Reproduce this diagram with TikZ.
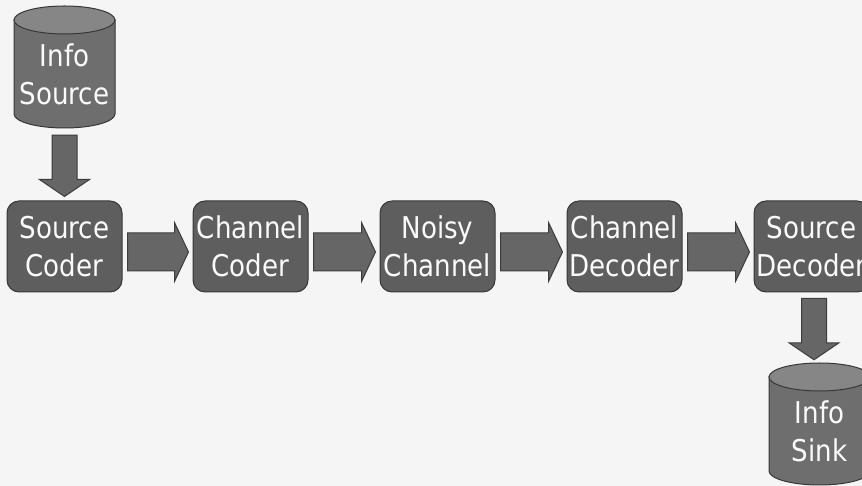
\documentclass[tikz,border=0pt]{standalone}
\usepackage{fontspec}
\setmainfont{DejaVu Sans}[FakeStretch=0.87]
\usetikzlibrary{calc}

\definecolor{bgcol}{RGB}{245,245,245}
\definecolor{boxfill}{RGB}{94,94,94}
\definecolor{boxline}{RGB}{55,55,55}
\definecolor{arrowfill}{RGB}{102,102,102}
\definecolor{arrowline}{RGB}{60,60,60}
\definecolor{cylbody}{RGB}{110,110,110}
\definecolor{cyltop}{RGB}{134,134,134}
\definecolor{labelcol}{RGB}{250,250,250}

\tikzset{
  labeltext/.style={text=labelcol, align=center,
    font=\fontsize{30}{38}\selectfont},
  stage/.style={labeltext, rectangle, rounded corners=12pt, fill=boxfill,
    draw=boxline, line width=1pt, minimum width=115pt, minimum height=91pt,
    inner sep=0pt},
  % upright cylinder drawn inside the node's (invisible) rectangle
  store/.style={rectangle, inner sep=0pt, minimum width=103pt,
    minimum height=124pt,
    path picture={
      \path[fill=cylbody, draw=boxline, line width=1pt]
        let \p1=(path picture bounding box.south west),
            \p2=(path picture bounding box.north east),
            \n1={(\x2-\x1)/2-1pt} in
        (\x1+1pt,\y2-15pt) -- (\x1+1pt,\y1+15pt)
        arc[start angle=180, end angle=360, x radius=\n1, y radius=14pt]
        -- (\x2-1pt,\y2-15pt) -- cycle;
      \path[fill=cyltop, draw=boxline, line width=1pt]
        let \p1=(path picture bounding box.south west),
            \p2=(path picture bounding box.north east),
            \n1={(\x2-\x1)/2-1pt} in
        ({(\x1+\x2)/2},\y2-15pt) ellipse[x radius=\n1, y radius=14pt];
    }},
  % broad block arrow pointing right
  harrow/.style={fill=arrowfill, draw=arrowline, line width=1pt,
    to path={let \p1=(\tikztostart), \p2=(\tikztotarget) in
      (\x1,\y1+19pt) -- (\x2-14pt,\y1+19pt) -- (\x2-14pt,\y1+29.5pt)
      -- (\x2,\y1) -- (\x2-14pt,\y1-29.5pt) -- (\x2-14pt,\y1-19pt)
      -- (\x1,\y1-19pt) -- cycle}},
  % broad block arrow pointing down
  varrow/.style={fill=arrowfill, draw=arrowline, line width=1pt,
    to path={let \p1=(\tikztostart), \p2=(\tikztotarget) in
      (\x1-12.5pt,\y1) -- (\x1-12.5pt,\y2+17pt) -- (\x1-25pt,\y2+17pt)
      -- (\x1,\y2) -- (\x1+25pt,\y2+17pt) -- (\x1+12.5pt,\y2+17pt)
      -- (\x1+12.5pt,\y1) -- cycle}},
}

\begin{document}
\begin{tikzpicture}[x=1pt,y=1pt]
  \clip (0,0) rectangle (862,486);
  \useasboundingbox (0,0) rectangle (862,486);
  \fill[bgcol] (0,0) rectangle (862,486);

  % data stores
  \node[store] (src)  at (64.5,419) {};
  \node[labeltext] (srclabel) at ([yshift=-7pt]src.center) {Info\\Source};
  \node[store] (sink) at (819.5,62) {};
  \node[labeltext] (sinklabel) at ([yshift=-7pt]sink.center) {Info\\Sink};

  % processing chain
  \node[stage] (scod) at (64.5,239.5)  {Source\\Coder};
  \node[stage] (ccod) at (250.5,239.5) {Channel\\Coder};
  \node[stage] (nch)  at (437.5,239.5) {Noisy\\Channel};
  \node[stage] (cdec) at (624.5,239.5) {Channel\\Decoder};
  \node[stage] (sdec) at (811.5,239.5) {Source\\Decoder};

  % arrows
  \draw[varrow] ([yshift=-6pt]src.south) to ([yshift=4pt]scod.north);
  \draw[harrow] ([xshift=5pt,yshift=-5.5pt]scod.east) to ([xshift=-4pt,yshift=-5.5pt]ccod.west);
  \draw[harrow] ([xshift=5pt,yshift=-5.5pt]ccod.east) to ([xshift=-4pt,yshift=-5.5pt]nch.west);
  \draw[harrow] ([xshift=5pt,yshift=-5.5pt]nch.east) to ([xshift=-4pt,yshift=-5.5pt]cdec.west);
  \draw[harrow] ([xshift=5pt,yshift=-5.5pt]cdec.east) to ([xshift=-4pt,yshift=-5.5pt]sdec.west);
  \draw[varrow] ([xshift=2.5pt,yshift=-6pt]sdec.south) to ([xshift=-5.5pt,yshift=2pt]sink.north);
\end{tikzpicture}
\end{document}
